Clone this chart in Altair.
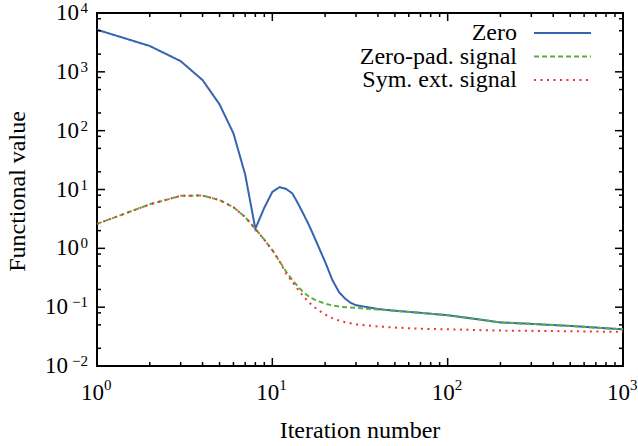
import altair as alt
import pandas as pd

# ---------------- data ----------------
x_zero = [1, 2, 3, 4, 5, 6, 7, 8, 9, 10, 11, 12, 13, 14, 15, 16, 17, 18, 20, 22, 24, 26, 28, 30,
          40, 50, 70, 100, 150, 200, 300, 500, 700, 1000]
y_zero = [5200, 2750, 1520, 725, 280, 90, 18, 2.15, 4.9, 9.1, 11.0, 10.2, 8.6, 5.8, 3.9, 2.65, 1.79, 1.21,
          0.59, 0.29, 0.18, 0.14, 0.118, 0.108, 0.093, 0.087, 0.080, 0.073, 0.062, 0.055, 0.052, 0.048,
          0.045, 0.042]

x_pad = [1, 2, 3, 4, 5, 6, 7, 8, 9, 10, 11, 12, 13, 14, 15, 16, 17, 18, 20, 22, 25, 30,
         40, 50, 70, 100, 150, 200, 300, 500, 700, 1000]
y_pad = [2.6, 5.6, 7.8, 7.9, 6.6, 5.0, 3.4, 2.15, 1.4, 0.93, 0.60, 0.40, 0.29, 0.225, 0.18, 0.155, 0.14,
         0.128, 0.115, 0.107, 0.101, 0.097, 0.091, 0.087, 0.080, 0.073, 0.062, 0.055, 0.052, 0.048,
         0.045, 0.042]

x_sym = [1, 2, 3, 4, 5, 6, 7, 8, 9, 10, 11, 12, 13, 14, 15, 16, 17, 18, 20, 22, 25, 30,
         40, 50, 70, 100, 200, 500, 1000]
y_sym = [2.6, 5.6, 7.8, 7.9, 6.6, 5.0, 3.4, 2.15, 1.4, 0.93, 0.60, 0.37, 0.27, 0.20, 0.155, 0.125, 0.105,
         0.092, 0.075, 0.065, 0.057, 0.051, 0.047, 0.045, 0.043, 0.042, 0.040, 0.039, 0.038]

series_names = ["Zero", "Zero-pad. signal", "Sym. ext. signal"]
series_colors = ["#3565b0", "#5fae44", "#ee3333"]
series_dash = [[1, 0], [5, 3], [2, 4.5]]

x_major = [1, 10, 100, 1000]
x_exp = ["0", "1", "2", "3"]
x_minor = [m * 10 ** k for k in range(0, 3) for m in range(2, 10)]
y_major = [0.01, 0.1, 1, 10, 100, 1000, 10000]
y_exp = ["\u22122", "\u22121", "0", "1", "2", "3", "4"]
y_minor = [m * 10.0 ** k for k in range(-2, 4) for m in (2, 5, 8)]

x_title = "Iteration number"
y_title = "Functional value"

# ---------------- layout ----------------
W, H = 526, 353
FONT = "Liberation Serif"
FS = 24        # titles / legend
FS_T = 23      # tick label base "10"
FS_E = 15      # exponent
MAJ, MIN = 8, 4

xscale = alt.Scale(type="log", domain=[1, 1000], nice=False)
yscale = alt.Scale(type="log", domain=[0.01, 10000], nice=False)

rows = []
for name, xs, ys in [(series_names[0], x_zero, y_zero), (series_names[1], x_pad, y_pad),
                     (series_names[2], x_sym, y_sym)]:
    for a, b in zip(xs, ys):
        rows.append({"it": a, "val": b, "s": name})
df = pd.DataFrame(rows)

layers = []
for i, name in enumerate(series_names):
    sub = df[df.s == name]
    layers.append(
        alt.Chart(sub).mark_line(color=series_colors[i], strokeWidth=2, strokeDash=series_dash[i])
        .encode(x=alt.X("it:Q", scale=xscale, axis=None),
                y=alt.Y("val:Q", scale=yscale, axis=None), order="it:Q")
    )

# inward ticks on all four sides
def xticks(vals, length):
    d = pd.DataFrame({"v": vals})
    bot = alt.Chart(d).mark_rule(color="black", strokeWidth=1.5).encode(
        x=alt.X("v:Q", scale=xscale, axis=None), y=alt.value(H), y2=alt.value(H - length))
    top = alt.Chart(d).mark_rule(color="black", strokeWidth=1.5).encode(
        x=alt.X("v:Q", scale=xscale, axis=None), y=alt.value(0), y2=alt.value(length))
    return [bot, top]

def yticks(vals, length):
    d = pd.DataFrame({"v": vals})
    left = alt.Chart(d).mark_rule(color="black", strokeWidth=1.5).encode(
        y=alt.Y("v:Q", scale=yscale, axis=None), x=alt.value(0), x2=alt.value(length))
    right = alt.Chart(d).mark_rule(color="black", strokeWidth=1.5).encode(
        y=alt.Y("v:Q", scale=yscale, axis=None), x=alt.value(W), x2=alt.value(W - length))
    return [left, right]

tick_layers = xticks(x_major, MAJ) + xticks(x_minor, MIN) + yticks(y_major, MAJ) + yticks(y_minor, MIN)

# tick labels 10^k drawn as base + raised exponent
xl = pd.DataFrame({"v": x_major, "e": x_exp})
yl = pd.DataFrame({"v": y_major, "e": y_exp})
yl_neg = yl[yl.v < 1]
yl_pos = yl[yl.v >= 1]

label_layers = [
    alt.Chart(xl).mark_text(align="right", baseline="alphabetic", font=FONT, fontSize=FS_T,
                            color="black", dx=7)
    .encode(x=alt.X("v:Q", scale=xscale, axis=None), y=alt.value(H + 34), text=alt.value("10")),
    alt.Chart(xl).mark_text(align="left", baseline="alphabetic", font=FONT, fontSize=FS_E,
                            color="black", dx=7)
    .encode(x=alt.X("v:Q", scale=xscale, axis=None), y=alt.value(H + 24), text="e:N"),
    alt.Chart(yl_pos).mark_text(align="right", baseline="middle", font=FONT, fontSize=FS_T,
                                color="black")
    .encode(y=alt.Y("v:Q", scale=yscale, axis=None), x=alt.value(-18), text=alt.value("10")),
    alt.Chart(yl_neg).mark_text(align="right", baseline="middle", font=FONT, fontSize=FS_T,
                                color="black")
    .encode(y=alt.Y("v:Q", scale=yscale, axis=None), x=alt.value(-29), text=alt.value("10")),
    alt.Chart(yl).mark_text(align="right", baseline="middle", font=FONT, fontSize=FS_E,
                            color="black", dy=-5)
    .encode(y=alt.Y("v:Q", scale=yscale, axis=None), x=alt.value(-9), text="e:N"),
]

# axis titles
title_layers = [
    alt.Chart(pd.DataFrame({"t": [x_title]})).mark_text(
        align="center", baseline="alphabetic", font=FONT, fontSize=FS, color="black")
    .encode(x=alt.value(W / 2), y=alt.value(H + 72), text="t:N"),
    alt.Chart(pd.DataFrame({"t": [y_title]})).mark_text(
        align="center", baseline="alphabetic", font=FONT, fontSize=FS, color="black", angle=270)
    .encode(x=alt.value(-72), y=alt.value(H / 2 + 2), text="t:N"),
]

# legend (labels left, line samples right)
leg_layers = []
for i, name in enumerate(series_names):
    yy = 20 + i * 23.5
    leg_layers.append(
        alt.Chart(pd.DataFrame({"t": [name]})).mark_text(
            align="right", baseline="middle", font=FONT, fontSize=FS, color="black")
        .encode(x=alt.value(420), y=alt.value(yy), text="t:N"))
    leg_layers.append(
        alt.Chart(pd.DataFrame({"t": [name]})).mark_rule(
            color=series_colors[i], strokeWidth=2, strokeDash=series_dash[i])
        .encode(x=alt.value(437), x2=alt.value(494), y=alt.value(yy)))

chart = alt.layer(*layers, *tick_layers, *label_layers, *title_layers, *leg_layers).properties(
    width=W, height=H, autosize="none",
    padding={"left": 97, "top": 13, "right": 15, "bottom": 80},
    background="white",
).configure_view(stroke="black", strokeWidth=2)

chart.save("out.html", embed_options={"renderer": "svg", "actions": False})
